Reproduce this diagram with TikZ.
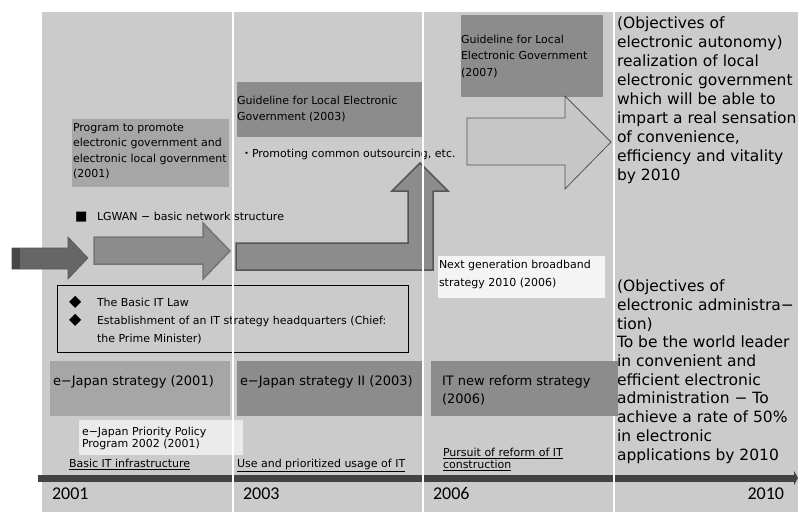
\documentclass[tikz,border=0pt]{standalone}
\usepackage{fontspec}
\setmainfont{DejaVu Sans}
\newfontfamily\yearfont{Carlito}
\newfontfamily\cjk{Noto Sans CJK JP}
\usetikzlibrary{arrows.meta}
\definecolor{bg}{HTML}{CBCBCB}
\definecolor{boxA}{HTML}{A6A6A6}
\definecolor{boxB}{HTML}{8C8C8C}
\definecolor{boxL}{HTML}{EBEBEB}
\definecolor{boxW}{HTML}{F4F4F4}
\definecolor{arrDark}{HTML}{666666}
\definecolor{arrDarker}{HTML}{474747}
\definecolor{arrMid}{HTML}{8C8C8C}
\definecolor{edgeMid}{HTML}{757575}
\definecolor{edgeDark}{HTML}{555555}
\definecolor{arrLight}{HTML}{C6C6C6}
\definecolor{barC}{HTML}{424242}
\newcommand{\lns}[4]{\parbox[t]{#1}{\fontsize{#2}{#3}\selectfont\raggedright #4}}
\begin{document}
\begin{tikzpicture}[x=1pt,y=-1pt,
  box/.style={draw=none, inner sep=0pt, outer sep=0pt, anchor=north west},
  txt/.style={anchor=base west, inner sep=0pt, outer sep=0pt, text=black},
  yr/.style={anchor=base west, inner sep=0pt, outer sep=0pt, text=black, font=\yearfont\fontsize{18}{20}\selectfont},
  gridline/.style={draw=white, line width=2pt},
  bigtxt/.style={txt}
]
\useasboundingbox (0,0) rectangle (798,512);
\fill[bg] (42,12) rectangle (798,512);

% boxes
\node[box, fill=boxA, minimum width=157pt, minimum height=68pt] (progbox) at (72,119) {};
\node[box, fill=boxB, minimum width=186pt, minimum height=55pt] (guide03) at (237,82) {};
\node[box, fill=boxB, minimum width=142pt, minimum height=82pt] (guide07) at (461,15) {};
\node[box, fill=boxW, minimum width=167pt, minimum height=42pt] (nextgen) at (438,256) {};
\node[box, fill=boxA, minimum width=180pt, minimum height=55pt] (ej01) at (50,361) {};
\node[box, fill=boxB, minimum width=186pt, minimum height=55pt] (ej03) at (237,361) {};
\node[box, fill=boxL, minimum width=164pt, minimum height=35pt] (prio) at (79,420) {};
\node[box, draw=black, line width=0.8pt, minimum width=351pt, minimum height=67pt] (lawbox) at (57,285) {};

% texts
\node[txt] (progtxt) at (73,131) {\lns{200pt}{11}{15.6}{Program to promote\\electronic government and\\electronic local government\\(2001)}};
\node[txt] (g03txt) at (237,104.3) {\lns{220pt}{11}{16.3}{Guideline for Local Electronic\\Government (2003)}};
\node[txt] (promo) at (241,157.3) {\fontsize{11}{13}\selectfont{\cjk ・}Promoting common outsourcing, etc.};
\node[txt] (g07txt) at (461,43.3) {\lns{200pt}{11}{16.6}{Guideline for Local\\Electronic Government\\(2007)}};
\node[txt] (lgwan) at (75,220.7) {\fontsize{11}{13}\selectfont\makebox[22pt][l]{\fontsize{13}{13}\selectfont ■}LGWAN − basic network structure};
\node[txt] (lawtxt) at (69,306) {\lns{340pt}{11}{18.3}{\makebox[28pt][l]{\fontsize{16}{16}\selectfont ◆}The Basic IT Law\\\makebox[28pt][l]{\fontsize{16}{16}\selectfont ◆}Establishment of an IT strategy headquarters (Chief:\\\hspace*{28pt}the Prime Minister)}};
\node[txt] (ngtxt) at (439,268.3) {\lns{200pt}{11}{18.4}{Next generation broadband\\strategy 2010 (2006)}};
\node[txt] (ej01txt) at (53,385) {\fontsize{13}{15}\selectfont e−Japan strategy (2001)};
\node[txt] (ej03txt) at (240,385) {\fontsize{13}{15}\selectfont e−Japan strategy II (2003)};
\node[txt] (priotxt) at (82,435) {\lns{200pt}{11}{12.5}{e−Japan Priority Policy\\Program 2002 (2001)}};
\node[txt] (basiclbl) at (69,467.3) {\fontsize{11}{13}\selectfont\underline{Basic IT infrastructure}};
\node[txt] (uselbl) at (237,467.3) {\fontsize{11}{13}\selectfont\underline{Use and prioritized usage of IT}};
\node[txt] (pursuitlbl) at (443,456.7) {\lns{200pt}{11}{11.6}{\underline{Pursuit of reform of IT}\\\underline{construction}}};
\node[bigtxt] (goal1) at (617,28.5) {\lns{200pt}{15.5}{19}{(Objectives of\\electronic autonomy)\\realization of local\\electronic government\\which will be able to\\impart a real sensation\\of convenience,\\efficiency and vitality\\by 2010}};
\node[bigtxt] (goal2) at (617,291.7) {\lns{200pt}{15.5}{18.7}{(Objectives of\\electronic administra−\\tion)\\To be the world leader\\in convenient and\\efficient electronic\\administration − To\\achieve a rate of 50\%\\in electronic\\applications by 2010}};

% arrows
\filldraw[fill=arrDark, draw=edgeDark, line width=0.6pt]
  (12,248) -- (68,248) -- (68,237) -- (88,258) -- (68,279) -- (68,269) -- (12,269) -- cycle;
\fill[arrDarker] (12,248.3) rectangle (20,268.7);
\filldraw[fill=arrMid, draw=edgeMid, line width=1.5pt]
  (94,237) -- (203,237) -- (203,223) -- (230,251) -- (203,279) -- (203,264) -- (94,264) -- cycle;
\filldraw[fill=arrMid, draw=edgeDark, line width=1.5pt]
  (236,243) -- (408,243) -- (408,191) -- (392,191) -- (420,163) -- (448,191) -- (433,191) -- (433,270) -- (236,270) -- cycle;
\filldraw[fill=arrLight, draw=edgeDark, line width=0.8pt]
  (467,118) -- (565,118) -- (565,96) -- (611,142) -- (565,189) -- (565,165) -- (467,165) -- cycle;

% timeline bar
\coordinate (barstart) at (38,478);
\coordinate (barend) at (798,478);
\draw[barC, line width=7pt, -{Triangle[length=4pt,width=14pt]}] (barstart) -- (barend);

% grid lines
\coordinate (g1t) at (233,12); \coordinate (g1b) at (233,512);
\coordinate (g2t) at (423,12); \coordinate (g2b) at (423,512);
\coordinate (g3t) at (614,12); \coordinate (g3b) at (614,512);
\draw[gridline] (g1t) -- (g1b);
\draw[gridline] (g2t) -- (g2b);
\draw[gridline] (g3t) -- (g3b);

% box over the line
\node[box, fill=boxB, minimum width=187pt, minimum height=55pt] (itnew) at (431,361) {};
\node[txt] (itnewtxt) at (442,385) {\lns{180pt}{13}{18}{IT new reform strategy\\(2006)}};

% years
\node[yr] (y2001) at (52,499.3) {2001};
\node[yr] (y2003) at (243,499.3) {2003};
\node[yr] (y2006) at (433,499.3) {2006};
\node[yr, anchor=base east] (y2010) at (784,499.3) {2010};
\end{tikzpicture}
\end{document}
